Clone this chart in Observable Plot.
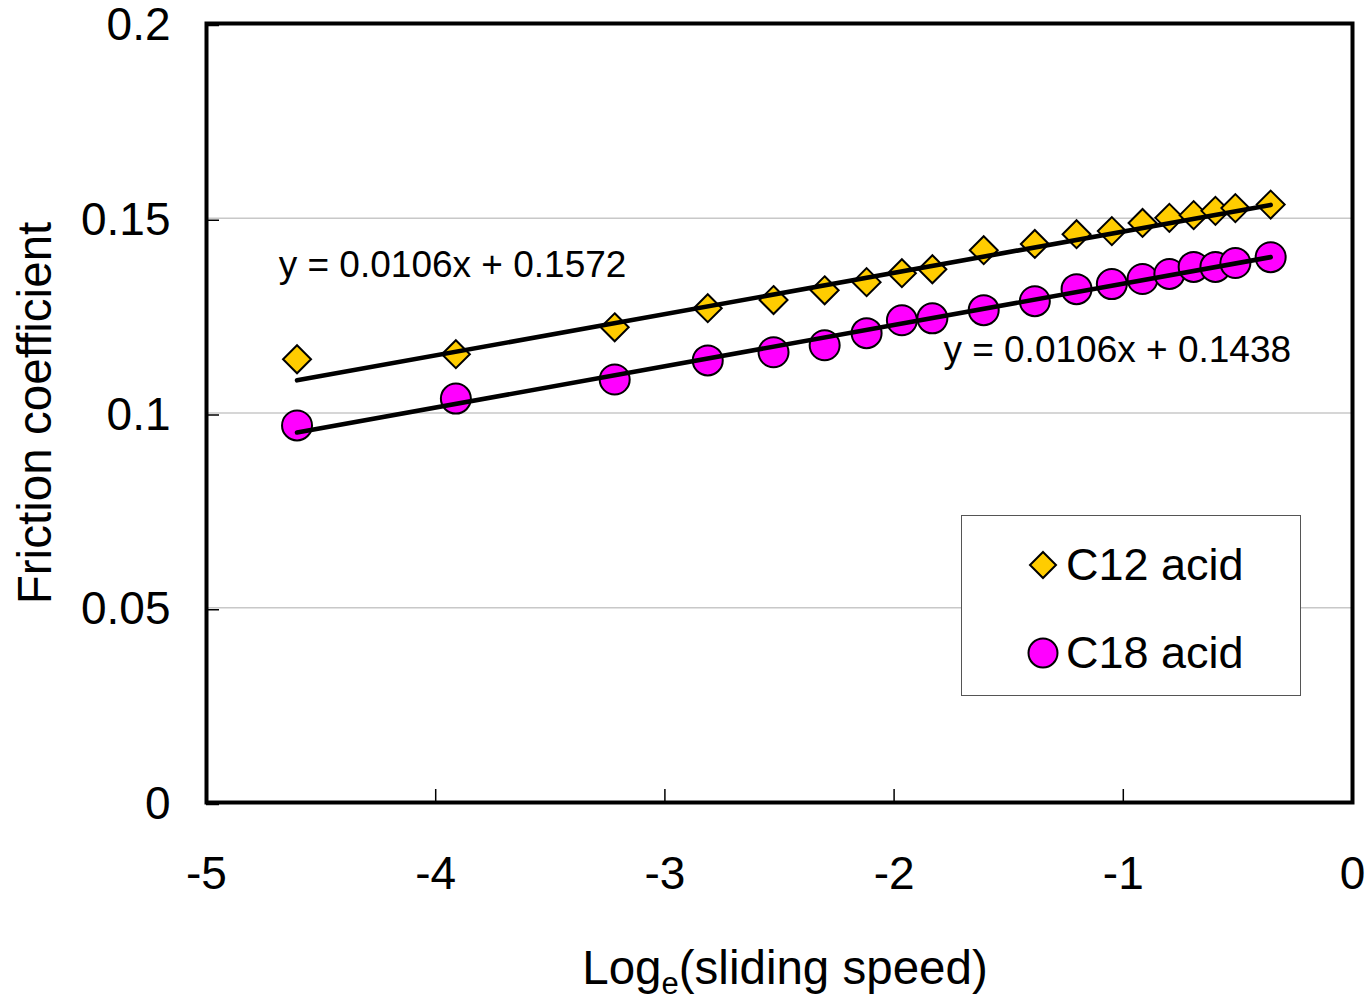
<!DOCTYPE html>
<html>
<head>
<meta charset="utf-8">
<script src="https://cdn.jsdelivr.net/npm/d3@7"></script>
<script src="https://cdn.jsdelivr.net/npm/@observablehq/plot@0.6"></script>
<style>
  html, body { margin: 0; padding: 0; background: #fff; }
  #wrap { position: relative; width: 1370px; height: 998px; font-family: "Liberation Sans", Arial, sans-serif; }
  #xlabel { position: absolute; left: 0; width: 1570px; top: 944px; text-align: center; font-size: 47.5px; color: #000; line-height: 1; }
  #xlabel sub { font-size: 31px; vertical-align: -10px; line-height: 0; }
  #legend { position: absolute; left: 961px; top: 515px; width: 338px; height: 179px; border: 1.5px solid #555; background: #fff; }
  .item { position: absolute; left: 0; font-size: 45px; line-height: 1; color: #000; }
  .item svg { position: absolute; }
  .item span { position: absolute; left: 104px; white-space: nowrap; }
</style>
</head>
<body>
<div id="wrap">
  <div id="chart"></div>
  <div id="xlabel">Log<sub>e</sub>(sliding speed)</div>
  <div id="legend"></div>
</div>
<script>
// ln(sliding speed)
const logSpeed = [-4.605, -3.912, -3.219, -2.813, -2.526, -2.303, -2.120, -1.966, -1.833, -1.609,
                  -1.386, -1.204, -1.050, -0.916, -0.799, -0.693, -0.598, -0.511, -0.357];
const c12 = [0.1138, 0.1151, 0.1220, 0.1269, 0.1290, 0.1315, 0.1336, 0.1359, 0.1369, 0.1418,
             0.1434, 0.1459, 0.1467, 0.1488, 0.1501, 0.1508, 0.1519, 0.1526, 0.1535];
const c18 = [0.0968, 0.1037, 0.1086, 0.1135, 0.1156, 0.1174, 0.1205, 0.1238, 0.1243, 0.1264,
             0.1287, 0.1318, 0.1331, 0.1344, 0.1357, 0.1375, 0.1375, 0.1385, 0.1400];
const seriesNames = ["C12 acid", "C18 acid"];
const slopes = [0.0106, 0.0106];
const intercepts = [0.1572, 0.1438];
const equationLabels = ["y = 0.0106x + 0.1572", "y = 0.0106x + 0.1438"];
const equationAnchorX = [-4.685, -1.785];
const equationAnchorY = [0.1380, 0.1161];
const xTicks = [-5, -4, -3, -2, -1, 0];
const yTicks = [0, 0.05, 0.1, 0.15, 0.2];
const yGrid = [0.05, 0.1, 0.15];

const pts12 = logSpeed.map((x, i) => ({x, y: c12[i]}));
const pts18 = logSpeed.map((x, i) => ({x, y: c18[i]}));
const xMin = d3.min(logSpeed), xMax = d3.max(logSpeed);
const fit = (k) => [xMin, xMax].map(x => ({x, y: slopes[k] * x + intercepts[k]}));
const eqs = equationLabels.map((t, i) => ({x: equationAnchorX[i], y: equationAnchorY[i], t}));

const chart = Plot.plot({
  width: 1370,
  height: 998,
  marginLeft: 206,
  marginRight: 18,
  marginTop: 23,
  marginBottom: 196,
  style: {fontFamily: "Liberation Sans, Arial, sans-serif", background: "#fff", color: "#000"},
  x: {domain: [-5, 0]},
  y: {domain: [0, 0.2]},
  marks: [
    Plot.gridY(yGrid, {stroke: "#c8c8c8", strokeOpacity: 1, strokeWidth: 1.5}),
    Plot.axisY(yTicks, {tickSize: -13, tickPadding: 49, fontSize: 46, strokeWidth: 1.5, dy: 2,
      tickFormat: d => String(d), label: null}),
    Plot.axisY(yTicks, {tickSize: 0, fontSize: 47.6, tickFormat: () => "",
      label: "Friction coefficient", labelAnchor: "center", labelArrow: "none", labelOffset: 189}),
    Plot.axisX(xTicks, {tickSize: -13, tickPadding: 67, fontSize: 46, strokeWidth: 1.5,
      tickFormat: d => String(d), label: null}),
    Plot.dot(pts12, {x: "x", y: "y", symbol: "diamond2", r: 12.6, fill: "#ffcc00", stroke: "#000", strokeWidth: 2}),
    Plot.dot(pts18, {x: "x", y: "y", r: 15, fill: "#ff00ff", stroke: "#000", strokeWidth: 2}),
    Plot.line(fit(0), {x: "x", y: "y", stroke: "#000", strokeWidth: 4.6}),
    Plot.line(fit(1), {x: "x", y: "y", stroke: "#000", strokeWidth: 4.6}),
    Plot.text(eqs, {x: "x", y: "y", text: "t", textAnchor: "start", fontSize: 37, fill: "#000"}),
    Plot.frame({stroke: "#000", strokeWidth: 4})
  ]
});
document.getElementById("chart").appendChild(chart);

// legend
const legend = document.getElementById("legend");
const symbols = [
  '<svg width="32" height="32" viewBox="-16 -16 32 32" style="left:65px;top:-16px"><path d="M0,-13L13,0L0,13L-13,0Z" fill="#ffcc00" stroke="#000" stroke-width="2"/></svg>',
  '<svg width="34" height="34" viewBox="-17 -17 34 34" style="left:64px;top:-17px"><circle r="14.5" fill="#ff00ff" stroke="#000" stroke-width="2"/></svg>'
];
const rowY = [49, 137];
seriesNames.forEach((name, i) => {
  const div = document.createElement("div");
  div.className = "item";
  div.style.top = rowY[i] + "px";
  div.innerHTML = symbols[i] + '<span style="top:-23px">' + name + '</span>';
  legend.appendChild(div);
});
</script>
</body>
</html>
